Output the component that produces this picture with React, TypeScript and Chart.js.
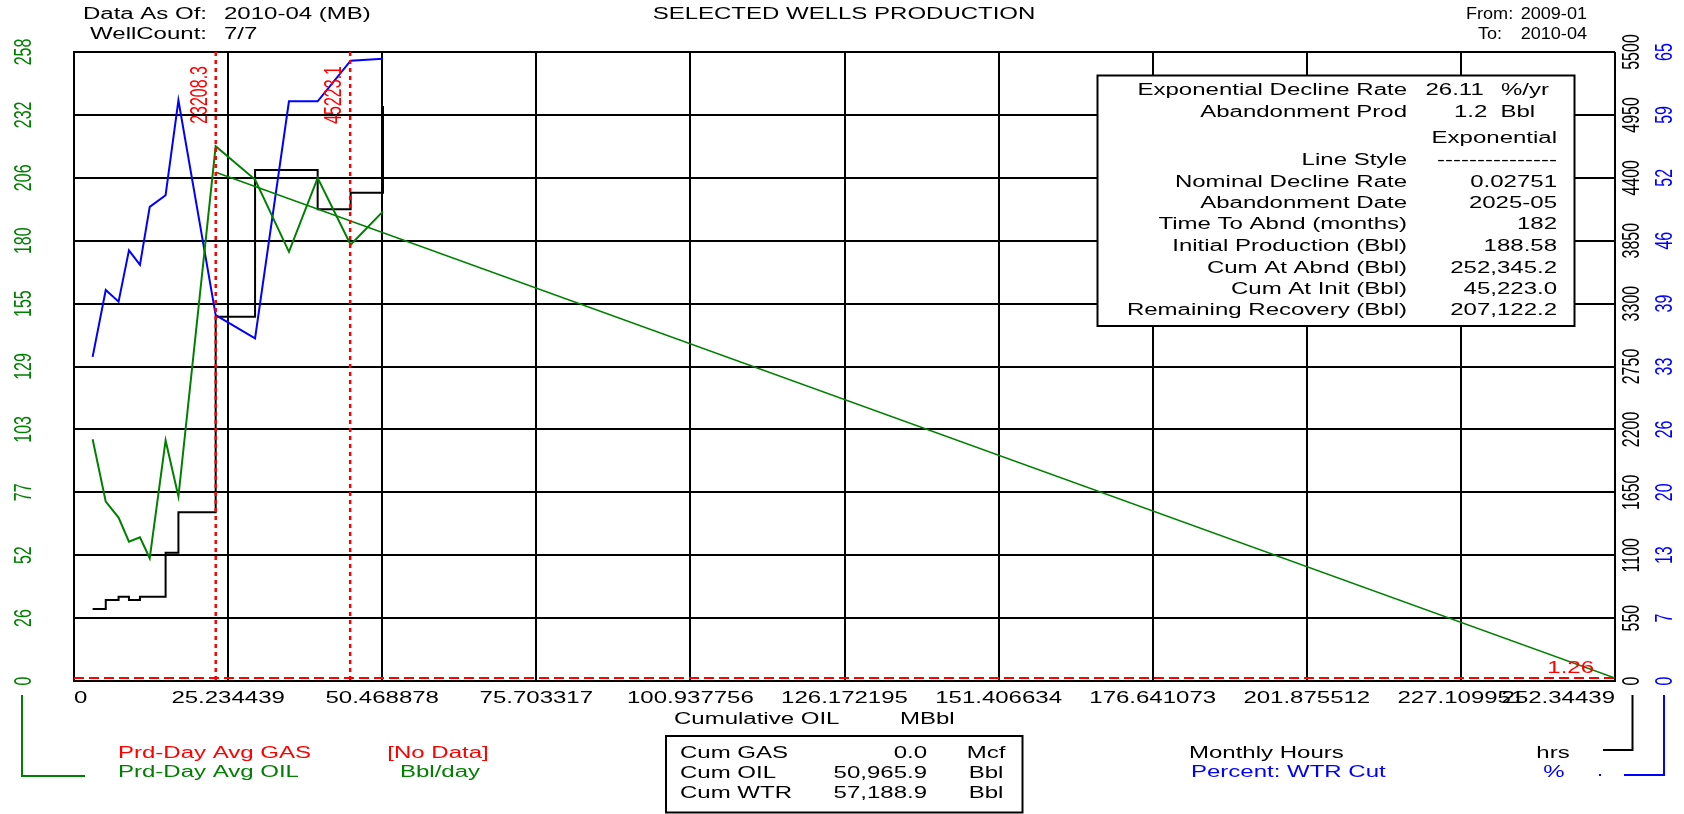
import React, { useEffect, useRef } from 'react';
import { Chart, registerables } from 'chart.js';

Chart.register(...registerables);

// ---------------- data ----------------
const cumOil = [3.05, 5.2, 7.3, 9.0, 10.8, 12.4, 15.0, 17.1, 23.2, 29.65, 35.2, 39.9, 45.3, 50.6];
const oilRate = [99.1, 73.5, 67.0, 57.1, 58.9, 50.3, 98.6, 75.6, 219.2, 205.5, 175.9, 206.2, 178.8, 192.5];
const wtrCut = [33.5, 40.4, 39.2, 44.5, 43.0, 49.0, 50.2, 60.0, 37.8, 35.4, 59.9, 59.9, 64.1, 64.3];
const monthlyHours = [630, 708, 737, 708, 737, 737, 1122, 1475, 3186, 4468, 4468, 4125, 4270, 5028];

const declineCum = [23.2083, 252.34439];
const declineRate = [208.5, 1.26];

const markerCum = [23.2083, 45.2231];
const markerLabels = ['23208.3', '45223.1'];
const abandonRate = 1.26;
const abandonLabel = '1.26';

const xMax = 252.34439;
const oilMax = 257.8;
const hoursMax = 5500;
const wtrMax = 65;

const xTickLabels = ['0', '25.234439', '50.468878', '75.703317', '100.937756', '126.172195', '151.406634', '176.641073', '201.875512', '227.109951', '252.34439'];
const oilTickLabels = ['0', '26', '52', '77', '103', '129', '155', '180', '206', '232', '258'];
const hoursTickLabels = ['0', '550', '1100', '1650', '2200', '2750', '3300', '3850', '4400', '4950', '5500'];
const wtrTickLabels = ['0', '7', '13', '20', '26', '33', '39', '46', '52', '59', '65'];

const infoLabels = ['Exponential Decline Rate', 'Abandonment Prod', '', 'Line Style', 'Nominal Decline Rate', 'Abandonment Date', 'Time To Abnd (months)', 'Initial Production (Bbl)', 'Cum At Abnd (Bbl)', 'Cum At Init (Bbl)', 'Remaining Recovery (Bbl)'];
const infoValues = ['26.11', '1.2', 'Exponential', '---------------', '0.02751', '2025-05', '182', '188.58', '252,345.2', '45,223.0', '207,122.2'];
const infoUnits = ['%/yr', 'Bbl'];

const cumNames = ['Cum GAS', 'Cum OIL', 'Cum WTR'];
const cumValues = ['0.0', '50,965.9', '57,188.9'];
const cumUnits = ['Mcf', 'Bbl', 'Bbl'];

const GREEN = '#008000';
const BLUE = '#0000ff';
const RED = '#ff0000';
const BLACK = '#000000';

const SX = 1.5;
const FONT = '"Liberation Sans", Arial, sans-serif';

function drawText(ctx: CanvasRenderingContext2D, s: string, x: number, y: number, color: string, align: CanvasTextAlign = 'left', rotate = false, sx = SX) {
  ctx.save();
  ctx.translate(x, y);
  ctx.scale(sx, 1);
  if (rotate) ctx.rotate(-Math.PI / 2);
  ctx.font = `16px ${FONT}`;
  ctx.fillStyle = color;
  ctx.textAlign = align;
  ctx.textBaseline = 'middle';
  ctx.fillText(s, 0, 0);
  ctx.restore();
}

function line(ctx: CanvasRenderingContext2D, pts: number[][], color: string, width = 2, dash: number[] = []) {
  ctx.save();
  ctx.strokeStyle = color;
  ctx.lineWidth = width;
  ctx.setLineDash(dash);
  ctx.beginPath();
  pts.forEach((p, i) => (i ? ctx.lineTo(p[0], p[1]) : ctx.moveTo(p[0], p[1])));
  ctx.stroke();
  ctx.restore();
}

const overlayPlugin = {
  id: 'overlay',
  beforeDraw(chart: any) {
    const ctx = chart.ctx;
    ctx.save();
    ctx.fillStyle = '#ffffff';
    ctx.fillRect(0, 0, chart.width, chart.height);
    ctx.restore();
  },
  afterDatasetsDraw(chart: any) {
    const ctx = chart.ctx as CanvasRenderingContext2D;
    const { x, y } = chart.scales;
    const area = chart.chartArea;
    markerCum.forEach((c, i) => {
      const px = x.getPixelForValue(c);
      line(ctx, [[px, area.top], [px, area.bottom]], RED, 2.5, [4, 4]);
      drawText(ctx, markerLabels[i], px - 15.5, area.top + 14, RED, 'right', true);
    });
    const ay = y.getPixelForValue(abandonRate);
    line(ctx, [[area.left, ay], [area.right, ay]], RED, 2, [10, 5]);
    drawText(ctx, abandonLabel, area.right - 21, ay - 9, RED, 'right');
  },
  afterDraw(chart: any) {
    const ctx = chart.ctx as CanvasRenderingContext2D;
    const { x, y, yHours, yWtr } = chart.scales;

    xTickLabels.forEach((t, i) => {
      const px = x.getPixelForValue((i * xMax) / 10);
      const align: CanvasTextAlign = i === 0 ? 'left' : i === xTickLabels.length - 1 ? 'right' : 'center';
      drawText(ctx, t, px, 699, BLACK, align);
    });
    drawText(ctx, 'Cumulative OIL', 674, 719.5, BLACK, 'left');
    drawText(ctx, 'MBbl', 900, 719.5, BLACK, 'left');

    oilTickLabels.forEach((t, i) => drawText(ctx, t, 24, y.getPixelForValue((i * oilMax) / 10), GREEN, 'center', true));
    hoursTickLabels.forEach((t, i) => drawText(ctx, t, 1632, yHours.getPixelForValue((i * hoursMax) / 10), BLACK, 'center', true));
    wtrTickLabels.forEach((t, i) => drawText(ctx, t, 1665, yWtr.getPixelForValue((i * wtrMax) / 10), BLUE, 'center', true));

    drawText(ctx, 'Data As Of:', 207, 15, BLACK, 'right');
    drawText(ctx, '2010-04 (MB)', 224, 15, BLACK, 'left');
    drawText(ctx, 'WellCount:', 207, 35, BLACK, 'right');
    drawText(ctx, '7/7', 224, 35, BLACK, 'left');
    drawText(ctx, 'SELECTED WELLS PRODUCTION', 844, 15, BLACK, 'center');
    drawText(ctx, 'From:', 1466, 15, BLACK, 'left', false, 1.13);
    drawText(ctx, '2009-01', 1587, 15, BLACK, 'right', false, 1.13);
    drawText(ctx, 'To:', 1478, 35, BLACK, 'left', false, 1.13);
    drawText(ctx, '2010-04', 1587, 35, BLACK, 'right', false, 1.13);

    ctx.save();
    ctx.fillStyle = '#ffffff';
    ctx.fillRect(1097.5, 75.5, 477, 250.5);
    ctx.strokeStyle = BLACK;
    ctx.lineWidth = 2;
    ctx.strokeRect(1097.5, 75.5, 477, 250.5);
    ctx.restore();
    const rows = [91, 113, 139, 161, 182.5, 203.5, 225, 247, 268.5, 290, 311];
    infoLabels.forEach((l, i) => {
      if (l) drawText(ctx, l, 1407, rows[i], BLACK, 'right');
      if (i === 0) {
        drawText(ctx, infoValues[i], 1425.5, rows[i], BLACK, 'left');
        drawText(ctx, infoUnits[0], 1501, rows[i], BLACK, 'left');
      } else if (i === 1) {
        drawText(ctx, infoValues[i], 1454, rows[i], BLACK, 'left');
        drawText(ctx, infoUnits[1], 1500.5, rows[i], BLACK, 'left');
      } else {
        drawText(ctx, infoValues[i], 1557, rows[i], BLACK, 'right');
      }
    });

    drawText(ctx, 'Prd-Day Avg GAS', 118, 754, RED, 'left');
    drawText(ctx, '[No Data]', 438, 754, RED, 'center');
    drawText(ctx, 'Prd-Day Avg OIL', 118, 773, GREEN, 'left');
    drawText(ctx, 'Bbl/day', 440, 773, GREEN, 'center');
    line(ctx, [[22, 695], [22, 776], [85, 776]], GREEN, 2);

    ctx.save();
    ctx.strokeStyle = BLACK;
    ctx.lineWidth = 2;
    ctx.strokeRect(666, 736, 356.5, 76.5);
    ctx.restore();
    const cumRows = [754, 773.5, 794];
    cumNames.forEach((n, i) => {
      drawText(ctx, n, 680, cumRows[i], BLACK, 'left');
      drawText(ctx, cumValues[i], 927, cumRows[i], BLACK, 'right');
      drawText(ctx, cumUnits[i], 986, cumRows[i], BLACK, 'center');
    });

    drawText(ctx, 'Monthly Hours', 1189, 754, BLACK, 'left');
    drawText(ctx, 'hrs', 1553, 754, BLACK, 'center');
    drawText(ctx, 'Percent: WTR Cut', 1191, 773, BLUE, 'left');
    drawText(ctx, '%', 1554, 773, BLUE, 'center');
    line(ctx, [[1632.5, 695], [1632.5, 750], [1603, 750]], BLACK, 2);
    line(ctx, [[1664, 695], [1664, 775], [1624, 775]], BLUE, 2);
    ctx.save();
    ctx.fillStyle = BLUE;
    ctx.fillRect(1599, 774, 2, 2);
    ctx.restore();
  },
};

function ticksFor(max: number, labels: string[]) {
  return (scale: any) => {
    scale.ticks = labels.map((_, i) => ({ value: (i * max) / 10 }));
  };
}

export default function App() {
  const ref = useRef<HTMLCanvasElement | null>(null);

  useEffect(() => {
    if (!ref.current) return;
    const toPts = (xs: number[], ys: number[]) => xs.map((v, i) => ({ x: v, y: ys[i] }));
    const gridOpts = { color: BLACK, lineWidth: 2, drawTicks: false };
    const chart = new Chart(ref.current, {
      type: 'line',
      data: {
        datasets: [
          { label: 'Prd-Day Avg OIL', data: toPts(cumOil, oilRate), yAxisID: 'y', borderColor: GREEN, borderWidth: 2, pointRadius: 0, tension: 0, fill: false },
          { label: 'Exponential', data: toPts(declineCum, declineRate), yAxisID: 'y', borderColor: GREEN, borderWidth: 1.5, pointRadius: 0, tension: 0, fill: false },
          { label: 'Percent: WTR Cut', data: toPts(cumOil, wtrCut), yAxisID: 'yWtr', borderColor: BLUE, borderWidth: 2, pointRadius: 0, tension: 0, fill: false },
          { label: 'Monthly Hours', data: toPts(cumOil, monthlyHours), yAxisID: 'yHours', borderColor: BLACK, borderWidth: 2, pointRadius: 0, stepped: 'before', fill: false },
        ],
      },
      options: {
        animation: false,
        responsive: false,
        devicePixelRatio: 1,
        layout: { padding: { left: 74, top: 52, right: 69, bottom: 133 } },
        plugins: { legend: { display: false }, tooltip: { enabled: false } },
        scales: {
          x: {
            type: 'linear', min: 0, max: xMax,
            afterBuildTicks: ticksFor(xMax, xTickLabels),
            afterFit: (s: any) => { s.height = 0; },
            grid: gridOpts, border: { display: true, color: BLACK, width: 2 }, ticks: { display: false },
          },
          y: {
            type: 'linear', position: 'left', min: 0, max: oilMax,
            afterBuildTicks: ticksFor(oilMax, oilTickLabels),
            afterFit: (s: any) => { s.width = 0; },
            grid: gridOpts, border: { display: true, color: BLACK, width: 2 }, ticks: { display: false },
          },
          yHours: {
            type: 'linear', position: 'right', min: 0, max: hoursMax,
            afterBuildTicks: ticksFor(hoursMax, hoursTickLabels),
            afterFit: (s: any) => { s.width = 0; },
            grid: { display: false }, border: { display: false }, ticks: { display: false },
          },
          yWtr: {
            type: 'linear', position: 'right', min: 0, max: wtrMax,
            afterBuildTicks: ticksFor(wtrMax, wtrTickLabels),
            afterFit: (s: any) => { s.width = 0; },
            grid: { display: false }, border: { display: false }, ticks: { display: false },
          },
        },
      } as any,
      plugins: [overlayPlugin],
    });
    return () => chart.destroy();
  }, []);

  return (
    <div style={{ position: 'fixed', left: 0, top: 0, width: 1684, height: 814, background: '#fff' }}>
      <canvas ref={ref} width={1684} height={814} style={{ width: 1684, height: 814, display: 'block' }} />
    </div>
  );
}
